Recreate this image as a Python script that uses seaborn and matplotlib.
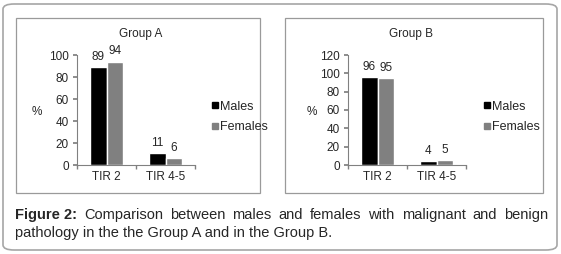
import pandas as pd
import matplotlib.pyplot as plt
import seaborn as sns
from matplotlib.patches import FancyBboxPatch, Rectangle
from matplotlib.lines import Line2D

categories = ["TIR 2", "TIR 4-5"]
groups = ["Group A", "Group B"]
males_a = [89, 11]
females_a = [94, 6]
males_b = [96, 4]
females_b = [95, 5]
ylims = [100, 120]

sns.set_theme(style="white")
plt.rcParams['font.family'] = ['Liberation Sans', 'DejaVu Sans']

fig = plt.figure(figsize=(5.61, 2.54), dpi=100)

# outer rounded frame
fig.patches.append(FancyBboxPatch((3 / 561, 4 / 254), 554 / 561, 246 / 254,
                                  boxstyle="round,pad=0,rounding_size=0.02",
                                  transform=fig.transFigure, fill=False,
                                  edgecolor="#a6a6a6", linewidth=1.2))
# panel frames
for x0, x1 in [(16, 260), (285, 543)]:
    fig.patches.append(Rectangle((x0 / 561, 1 - 193 / 254), (x1 - x0) / 561, 175 / 254,
                                 transform=fig.transFigure, fill=False,
                                 edgecolor="#9a9a9a", linewidth=0.9))

data = [(males_a, females_a), (males_b, females_b)]
axes_left = [77, 348]
pct_x = [37, 312]
leg_x = [211, 483]
colors = ["#000000", "#808080"]
fs = 8.5

for i, (m, f) in enumerate(data):
    ax = fig.add_axes([axes_left[i] / 561, 1 - 165 / 254, 118 / 561, 110 / 254])
    df = pd.DataFrame({
        "cat": categories * 2,
        "sex": ["Males"] * 2 + ["Females"] * 2,
        "val": m + f,
    })
    sns.barplot(data=df, x="cat", y="val", hue="sex", palette=colors,
                width=0.56, ax=ax, legend=False, saturation=1)
    for c in ax.containers:
        ax.bar_label(c, fmt="%d", padding=3, fontsize=fs)
    ax.set_ylim(0, ylims[i])
    ax.set_xlim(-0.5, 1.5)
    ax.set_yticks(range(0, ylims[i] + 1, 20))
    ax.set_xlabel("")
    ax.set_ylabel("")
    ax.patch.set_alpha(0)
    for s in ["top", "right"]:
        ax.spines[s].set_visible(False)
    for s in ["left", "bottom"]:
        ax.spines[s].set_color("#808080")
        ax.spines[s].set_linewidth(0.8)
    ax.set_xticks([-0.5, 0.5, 1.5], minor=True)
    ax.tick_params(axis="x", which="major", length=0, labelsize=fs, pad=4)
    ax.tick_params(axis="x", which="minor", length=3, color="#808080", direction="out", bottom=True)
    ax.tick_params(axis="y", length=3, color="#808080", direction="out", left=True,
                   labelsize=fs, pad=3)
    fig.text((axes_left[i] + 59) / 561 + 0.008, 1 - 34 / 254, groups[i],
             ha="center", va="center", fontsize=fs)
    fig.text(pct_x[i] / 561, 1 - 112 / 254, "%", ha="center", va="center", fontsize=fs)
    handles = [Line2D([], [], marker="s", linestyle="", color=c, markersize=5) for c in colors]
    fig.legend(handles, ["Males", "Females"], loc="center left",
               bbox_to_anchor=(leg_x[i] / 561, 1 - 117 / 254), frameon=False,
               fontsize=9, handlelength=0.6, handletextpad=0.1, labelspacing=0.7,
               borderpad=0, borderaxespad=0)

# caption, first line justified
fig.canvas.draw()
renderer = fig.canvas.get_renderer()
words = ["Figure 2:"] + "Comparison between males and females with malignant and benign".split()
x_start, x_end = 15, 548
cap_fs = 10.5
y1 = 1 - 215 / 254
objs = []
for j, w in enumerate(words):
    t = fig.text(0, y1, w, fontsize=cap_fs, va="center",
                 fontweight="bold" if j == 0 else "normal")
    objs.append(t)
widths = [t.get_window_extent(renderer).width for t in objs]
gap = (x_end - x_start - sum(widths)) / (len(words) - 1)
x = x_start
for t, w in zip(objs, widths):
    t.set_x(x / 561)
    x += w + gap
fig.text(x_start / 561, 1 - 233 / 254,
         "pathology in the the Group A and in the Group B.", fontsize=cap_fs, va="center")

fig.savefig("out.png", dpi=100)
